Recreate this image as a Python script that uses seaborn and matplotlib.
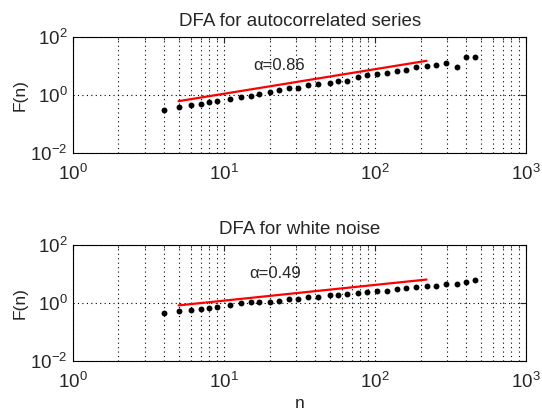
import numpy as np
import pandas as pd
import seaborn as sns
import matplotlib.pyplot as plt
from matplotlib.ticker import LogLocator, NullFormatter

# box sizes (log-spaced)
n_vals = [4, 5, 6, 7, 8, 9, 11, 13, 15, 17, 20, 23, 27, 31, 36, 42, 50, 57,
          65, 77, 88, 103, 120, 140, 161, 188, 219, 255, 297, 346, 398, 462]

# F(n) for the autocorrelated series (log10 values)
logF_auto = [-0.51, -0.42, -0.35, -0.31, -0.23, -0.19, -0.14, -0.06, -0.02, 0.05,
             0.11, 0.16, 0.24, 0.26, 0.33, 0.37, 0.43, 0.49, 0.50, 0.61, 0.69,
             0.73, 0.77, 0.83, 0.88, 0.95, 1.01, 1.03, 1.09, 0.98, 1.31, 1.31]

# F(n) for white noise (log10 values)
logF_white = [-0.33, -0.27, -0.23, -0.20, -0.16, -0.12, -0.06, -0.01, 0.02, 0.02,
              0.05, 0.08, 0.13, 0.15, 0.20, 0.21, 0.27, 0.28, 0.32, 0.36, 0.38,
              0.41, 0.43, 0.48, 0.52, 0.55, 0.60, 0.60, 0.65, 0.67, 0.74, 0.78]

# fitted lines (end points)
fit_n = [5, 219]
fit_auto = [10 ** -0.21, 10 ** 1.18]
fit_white = [10 ** -0.08, 10 ** 0.81]

titles = ["DFA for autocorrelated series", "DFA for white noise"]
alpha_labels = ["\u03b1=0.86", "\u03b1=0.49"]

sns.set_style("white")
plt.rcParams['font.family'] = ['Liberation Sans', 'DejaVu Sans']
plt.rcParams['mathtext.fontset'] = 'custom'
plt.rcParams['mathtext.rm'] = 'Liberation Sans'
plt.rcParams['mathtext.it'] = 'Liberation Sans'

fig = plt.figure(figsize=(5.42, 4.16), dpi=100)
ax1 = fig.add_axes([0.1347, 0.632, 0.836, 0.279])
ax2 = fig.add_axes([0.1347, 0.132, 0.836, 0.279])

panels = [
    (ax1, logF_auto, fit_auto, titles[0], alpha_labels[0], (15.6, 10.7)),
    (ax2, logF_white, fit_white, titles[1], alpha_labels[1], (14.6, 10.2)),
]

grid_style = dict(color="black", linestyle=(0, (1, 3)), linewidth=0.8)

for ax, logF, fit, title, lab, pos in panels:
    df = pd.DataFrame({"n": n_vals, "F": 10 ** np.array(logF)})
    sns.lineplot(x=fit_n, y=fit, color="red", linewidth=1.6, ax=ax)
    sns.scatterplot(data=df, x="n", y="F", color="black", s=18,
                    edgecolor="black", linewidth=0, ax=ax, zorder=3)
    ax.set_xscale("log")
    ax.set_yscale("log")
    ax.set_xlim(1, 1000)
    ax.set_ylim(0.01, 100)
    ax.set_yticks([0.01, 1, 100])
    ax.yaxis.set_minor_locator(plt.NullLocator())
    ax.xaxis.set_major_locator(LogLocator(base=10, numticks=10))
    ax.xaxis.set_minor_locator(LogLocator(base=10, subs=np.arange(2, 10), numticks=20))
    ax.xaxis.set_minor_formatter(NullFormatter())
    ax.grid(True, which="major", axis="both", **grid_style)
    ax.grid(True, which="minor", axis="x", **grid_style)
    ax.tick_params(which="both", direction="in", top=True, right=True, labelsize=13.5)
    ax.tick_params(which="major", length=4)
    ax.tick_params(which="minor", length=2)
    ax.tick_params(axis="x", pad=8)
    ax.tick_params(axis="y", pad=4)
    for s in ax.spines.values():
        s.set_color("black")
        s.set_linewidth(0.8)
    ax.set_title(title, fontsize=13.5, pad=8)
    ax.set_ylabel("F(n)", fontsize=12.5, labelpad=2)
    ax.set_xlabel("")
    ax.text(pos[0], pos[1], lab, fontsize=12, va="center", ha="left")

ax2.set_xlabel("n", fontsize=12.5, labelpad=3)

fig.savefig("out.png", dpi=100)
